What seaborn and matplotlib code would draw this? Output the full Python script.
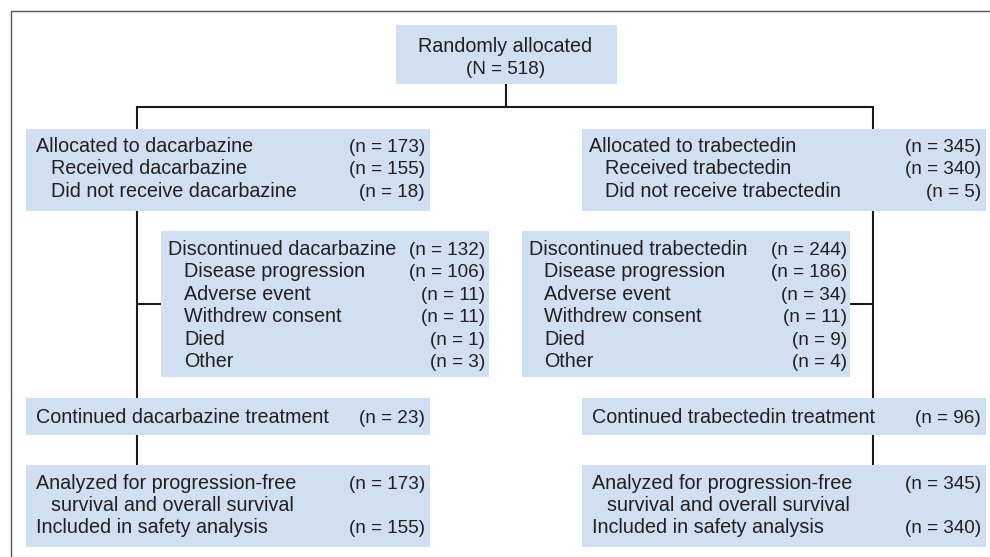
import matplotlib
matplotlib.use("Agg")
import matplotlib.pyplot as plt
from matplotlib.patches import Rectangle
import seaborn as sns

# ---------------- data ----------------
top_lines = ["Randomly allocated", "(N = 518)"]

alloc_labels_d = ["Allocated to dacarbazine", "Received dacarbazine", "Did not receive dacarbazine"]
alloc_counts_d = [173, 155, 18]
alloc_labels_t = ["Allocated to trabectedin", "Received trabectedin", "Did not receive trabectedin"]
alloc_counts_t = [345, 340, 5]

disc_labels_d = ["Discontinued dacarbazine", "Disease progression", "Adverse event",
                 "Withdrew consent", "Died", "Other"]
disc_counts_d = [132, 106, 11, 11, 1, 3]
disc_labels_t = ["Discontinued trabectedin", "Disease progression", "Adverse event",
                 "Withdrew consent", "Died", "Other"]
disc_counts_t = [244, 186, 34, 11, 9, 4]

cont_label_d = "Continued dacarbazine treatment"
cont_count_d = 23
cont_label_t = "Continued trabectedin treatment"
cont_count_t = 96

anal_labels = ["Analyzed for progression-free", "survival and overall survival",
               "Included in safety analysis"]
anal_counts_d = [173, None, 155]
anal_counts_t = [345, None, 340]
indent_flags_alloc = [False, True, True]
indent_flags_disc = [False, True, True, True, True, True]
indent_flags_anal = [False, True, False]

# ---------------- style ----------------
sns.set_theme(style="white")
plt.rcParams["font.family"] = ["Liberation Sans", "DejaVu Sans"]

BOX = "#D0DFF1"
TXT = "#231F20"
LINE = "#1A1A1A"
FS_LAB = 14.2
FS_NUM = 13.6

fig = plt.figure(figsize=(9.9, 5.57), dpi=100)
ax = fig.add_axes([0, 0, 1, 1])
ax.set_xlim(0, 990)
ax.set_ylim(557, 0)
ax.axis("off")

# frame (left and top)
ax.plot([10.5, 10.5, 990], [557, 10.5, 10.5], color="#555555", lw=1.0, solid_capstyle="butt")


def box(x0, y0, x1, y1):
    ax.add_patch(Rectangle((x0, y0), x1 - x0, y1 - y0, facecolor=BOX, edgecolor="none", zorder=1))


def txt(x, y, s, ha="left", fs=FS_LAB):
    ax.text(x, y, s, ha=ha, va="baseline", fontsize=fs, color=TXT, zorder=3)


def rows(labels, counts, indents, xl, xi, xr, y0, dy):
    for i, (lab, c, ind) in enumerate(zip(labels, counts, indents)):
        y = y0 + i * dy
        txt(xi if ind else xl, y, lab)
        if c is not None:
            txt(xr, y, f"(n = {c})", ha="right", fs=FS_NUM)


def line(xs, ys):
    ax.plot(xs, ys, color=LINE, lw=1.5, solid_capstyle="butt", zorder=2)


# connectors
XL, XR, XC = 137, 873, 505.5
line([XC, XC], [84, 107])
line([XL, XR], [107, 107])
line([XL, XL], [106.3, 129])
line([XR, XR], [106.3, 129])
line([XL, XL], [211, 398])
line([XR, XR], [211, 398])
line([XL, 161], [304, 304])
line([850, XR], [304, 304])
line([XL, XL], [435, 465])
line([XR, XR], [435, 465])

# top box
box(396, 25, 617, 84)
txt(XC, 52, top_lines[0], ha="center")
txt(XC, 74, top_lines[1], ha="center", fs=FS_NUM)

# allocation boxes
box(26, 129, 430, 211)
rows(alloc_labels_d, alloc_counts_d, indent_flags_alloc, 36, 51, 425, 152, 22.4)
box(582, 129, 986, 211)
rows(alloc_labels_t, alloc_counts_t, indent_flags_alloc, 589, 605, 981, 152, 22.4)

# discontinued boxes
box(161, 231, 489, 377)
rows(disc_labels_d, disc_counts_d, indent_flags_disc, 168, 184, 485, 255, 22.4)
box(522, 231, 850, 377)
rows(disc_labels_t, disc_counts_t, indent_flags_disc, 529, 544, 847, 255, 22.4)

# continued boxes
box(26, 398, 430, 435)
txt(36, 423, cont_label_d)
txt(425, 423, f"(n = {cont_count_d})", ha="right", fs=FS_NUM)
box(582, 398, 986, 435)
txt(592, 423, cont_label_t)
txt(981, 423, f"(n = {cont_count_t})", ha="right", fs=FS_NUM)

# analysis boxes
box(26, 465, 430, 547)
rows(anal_labels, anal_counts_d, indent_flags_anal, 36, 51, 425, 489, 22)
box(582, 465, 986, 547)
rows(anal_labels, anal_counts_t, indent_flags_anal, 592, 607, 981, 489, 22)

fig.savefig("out.png", dpi=100, facecolor="white")
